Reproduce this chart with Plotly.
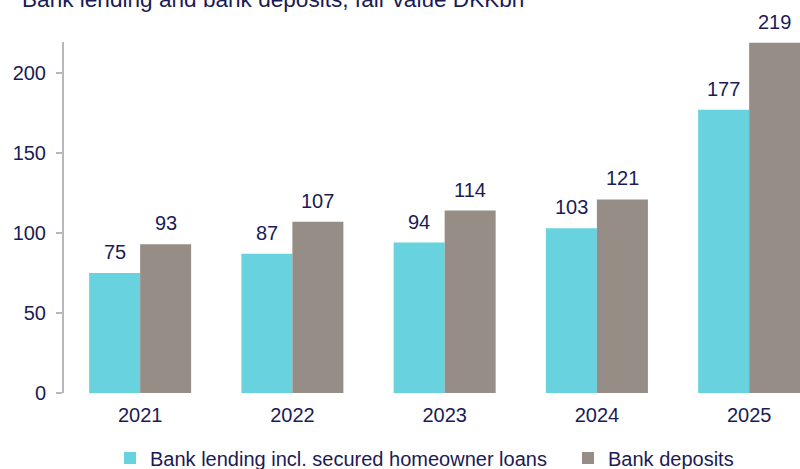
import plotly.graph_objects as go

# Bank lending and bank deposits, fair value, DKK bn
years = ["2021", "2022", "2023", "2024", "2025"]
lending = [75, 87, 94, 103, 177]
deposits = [93, 107, 114, 121, 219]

series_names = ["Bank lending incl. secured homeowner loans", "Bank deposits"]
title_text = "Bank lending and bank deposits, fair value DKKbn"

NAVY = "#1B1B56"
CYAN = "#68D3DE"
TAUPE = "#958D86"
FONT = "Arial, 'Liberation Sans', sans-serif"
BARGAP = 0.33

fig = go.Figure()
fig.add_trace(go.Bar(x=list(range(len(years))), y=lending, name=series_names[0],
                     marker=dict(color=CYAN, line=dict(width=0)), legend="legend"))
fig.add_trace(go.Bar(x=list(range(len(years))), y=deposits, name=series_names[1],
                     marker=dict(color=TAUPE, line=dict(width=0)), legend="legend2"))

# value labels above each bar, placed at the centre of each bar in the group
half = (1 - BARGAP) / 4
for values, off in ((lending, -half), (deposits, half)):
    for i, v in enumerate(values):
        fig.add_annotation(x=i + off, y=v, xref="x", yref="y", text=str(v),
                           showarrow=False, yanchor="middle", yshift=21,
                           font=dict(family=FONT, size=20, color=NAVY))

fig.add_annotation(text=title_text, xref="paper", yref="paper", x=0, y=1,
                   xanchor="left", yanchor="middle", xshift=-44, yshift=43,
                   showarrow=False, font=dict(family=FONT, size=22.6, color=NAVY))

legend_style = dict(orientation="h", xanchor="left", yanchor="middle", y=-0.185,
                    font=dict(family=FONT, size=20, color=NAVY),
                    bgcolor="rgba(0,0,0,0)", borderwidth=0)

fig.update_layout(
    width=800, height=469,
    margin=dict(l=64, r=0, t=42, b=76, autoexpand=False),
    paper_bgcolor="white", plot_bgcolor="white",
    barmode="group", bargap=BARGAP, bargroupgap=0,
    font=dict(family=FONT, size=20, color=NAVY),
    showlegend=True,
    legend=dict(x=(110 - 64) / 736, **legend_style),
    legend2=dict(x=(568 - 64) / 736, **legend_style),
)

fig.update_xaxes(
    range=[-0.5, 4.334], tickmode="array", tickvals=list(range(len(years))),
    ticktext=years, showline=False, ticks="", showgrid=False, zeroline=False,
    ticklabelstandoff=8, tickfont=dict(family=FONT, size=20, color=NAVY),
    fixedrange=True,
)
fig.update_yaxes(
    range=[0, 219.4], tickvals=[0, 50, 100, 150, 200], showgrid=False,
    zeroline=False, showline=True, linecolor="#B5B9BD", linewidth=2,
    ticks="outside", ticklen=6, tickcolor="#B5B9BD", tickwidth=2,
    ticklabelstandoff=6, tickfont=dict(family=FONT, size=20, color=NAVY),
    fixedrange=True,
)

fig.write_html("out.html", config={"displayModeBar": False})
